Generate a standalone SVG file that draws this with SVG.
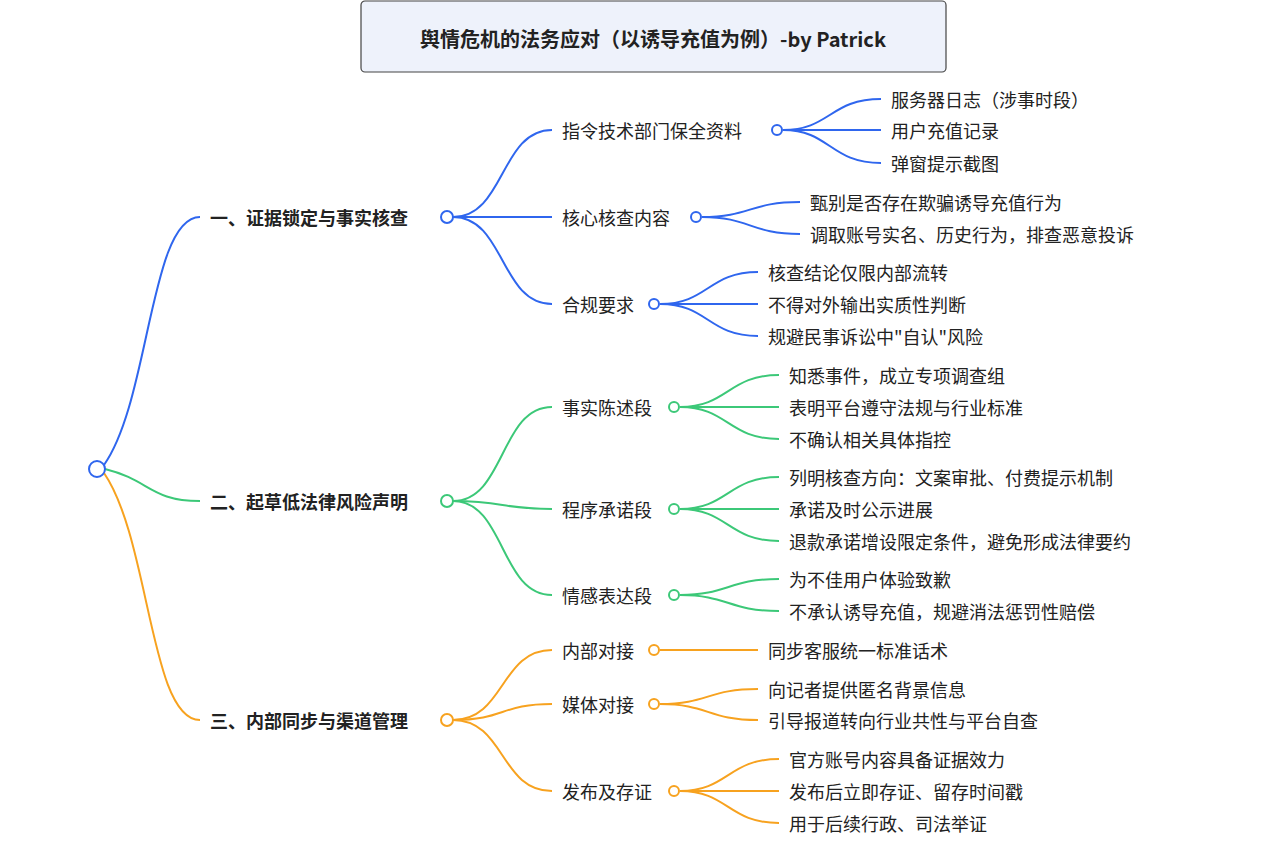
<svg xmlns="http://www.w3.org/2000/svg" width="1265" height="848" viewBox="0 0 1265 848">
<style>
text{font-family:"Noto Sans CJK SC","Noto Sans",sans-serif;font-size:18px;fill:#222;dominant-baseline:central}
.b{font-weight:bold}
.t{font-weight:bold;font-size:20px}
path{fill:none;stroke-width:2}
.bl{stroke:#2f66ee}.gr{stroke:#3cc878}.or{stroke:#f7a21f}
circle{fill:#fff;stroke-width:2}
</style>
<rect width="1265" height="848" fill="#fff"/>
<g id="title"><rect x="361" y="1" width="585" height="71" rx="4" fill="#eef2fb" stroke="#444" stroke-width="1.2"/><text class="t" x="653" y="38" text-anchor="middle">舆情危机的法务应对（以诱导充值为例）-by Patrick</text></g>
<g id="connectors">
<path class="bl" d="M104,465 C150,400 150,217 200,217"/>
<path class="gr" d="M105,469 C150,480 150,501 200,501"/>
<path class="or" d="M104,473 C150,540 150,720 200,720"/>
<path class="bl" d="M453,217 C505,217 500,130 552,130"/><path class="bl" d="M453,217 H552"/><path class="bl" d="M453,217 C505,217 500,304 552,304"/>
<path class="gr" d="M453,501 C505,501 500,407 552,407"/><path class="gr" d="M453,501 C505,501 500,509 552,509"/><path class="gr" d="M453,501 C505,501 500,595 552,595"/>
<path class="or" d="M453,720 C505,720 500,650 552,650"/><path class="or" d="M453,720 C505,720 500,704 552,704"/><path class="or" d="M453,720 C505,720 500,791 552,791"/>
<path class="bl" d="M783,130 C830,130 830,99 881,99"/><path class="bl" d="M783,130 H881"/><path class="bl" d="M783,130 C830,130 830,163 881,163"/>
<path class="bl" d="M702,217 C750,217 750,202 800,202"/><path class="bl" d="M702,217 C750,217 750,234 800,234"/>
<path class="bl" d="M660,304 C708,304 708,272 758,272"/><path class="bl" d="M660,304 H758"/><path class="bl" d="M660,304 C708,304 708,336 758,336"/>
<path class="gr" d="M680,407 C728,407 728,375 779,375"/><path class="gr" d="M680,407 H779"/><path class="gr" d="M680,407 C728,407 728,439 779,439"/>
<path class="gr" d="M680,509 C728,509 728,477 779,477"/><path class="gr" d="M680,509 H779"/><path class="gr" d="M680,509 C728,509 728,541 779,541"/>
<path class="gr" d="M680,595 C728,595 728,579 779,579"/><path class="gr" d="M680,595 C728,595 728,611 779,611"/>
<path class="or" d="M660,650 H758"/>
<path class="or" d="M660,704 C708,704 708,689 758,689"/><path class="or" d="M660,704 C708,704 708,720 758,720"/>
<path class="or" d="M680,791 C728,791 728,759 779,759"/><path class="or" d="M680,791 H779"/><path class="or" d="M680,791 C728,791 728,823 779,823"/>
</g>
<g id="root"><circle cx="97" cy="469" r="8" stroke="#2f66ee"/></g>
<g id="n1"><text class="b" x="210" y="217">一、证据锁定与事实核查</text><circle cx="447" cy="217" r="6" stroke="#2f66ee"/></g>
<g id="n2"><text class="b" x="210" y="501">二、起草低法律风险声明</text><circle cx="447" cy="501" r="6" stroke="#3cc878"/></g>
<g id="n3"><text class="b" x="210" y="720">三、内部同步与渠道管理</text><circle cx="447" cy="720" r="6" stroke="#f7a21f"/></g>
<g id="n1a"><text x="562" y="130">指令技术部门保全资料</text><circle cx="777" cy="130" r="5" stroke="#2f66ee"/><text x="891" y="99">服务器日志（涉事时段）</text><text x="891" y="130">用户充值记录</text><text x="891" y="163">弹窗提示截图</text></g>
<g id="n1b"><text x="562" y="217">核心核查内容</text><circle cx="696" cy="217" r="5" stroke="#2f66ee"/><text x="810" y="202">甄别是否存在欺骗诱导充值行为</text><text x="810" y="234">调取账号实名、历史行为，排查恶意投诉</text></g>
<g id="n1c"><text x="562" y="304">合规要求</text><circle cx="654" cy="304" r="5" stroke="#2f66ee"/><text x="768" y="272">核查结论仅限内部流转</text><text x="768" y="304">不得对外输出实质性判断</text><text x="768" y="336">规避民事诉讼中"自认"风险</text></g>
<g id="n2a"><text x="562" y="407">事实陈述段</text><circle cx="674" cy="407" r="5" stroke="#3cc878"/><text x="789" y="375">知悉事件，成立专项调查组</text><text x="789" y="407">表明平台遵守法规与行业标准</text><text x="789" y="439">不确认相关具体指控</text></g>
<g id="n2b"><text x="562" y="509">程序承诺段</text><circle cx="674" cy="509" r="5" stroke="#3cc878"/><text x="789" y="477">列明核查方向：文案审批、付费提示机制</text><text x="789" y="509">承诺及时公示进展</text><text x="789" y="541">退款承诺增设限定条件，避免形成法律要约</text></g>
<g id="n2c"><text x="562" y="595">情感表达段</text><circle cx="674" cy="595" r="5" stroke="#3cc878"/><text x="789" y="579">为不佳用户体验致歉</text><text x="789" y="611">不承认诱导充值，规避消法惩罚性赔偿</text></g>
<g id="n3a"><text x="562" y="650">内部对接</text><circle cx="654" cy="650" r="5" stroke="#f7a21f"/><text x="768" y="650">同步客服统一标准话术</text></g>
<g id="n3b"><text x="562" y="704">媒体对接</text><circle cx="654" cy="704" r="5" stroke="#f7a21f"/><text x="768" y="689">向记者提供匿名背景信息</text><text x="768" y="720">引导报道转向行业共性与平台自查</text></g>
<g id="n3c"><text x="562" y="791">发布及存证</text><circle cx="674" cy="791" r="5" stroke="#f7a21f"/><text x="789" y="759">官方账号内容具备证据效力</text><text x="789" y="791">发布后立即存证、留存时间戳</text><text x="789" y="823">用于后续行政、司法举证</text></g>
</svg>
